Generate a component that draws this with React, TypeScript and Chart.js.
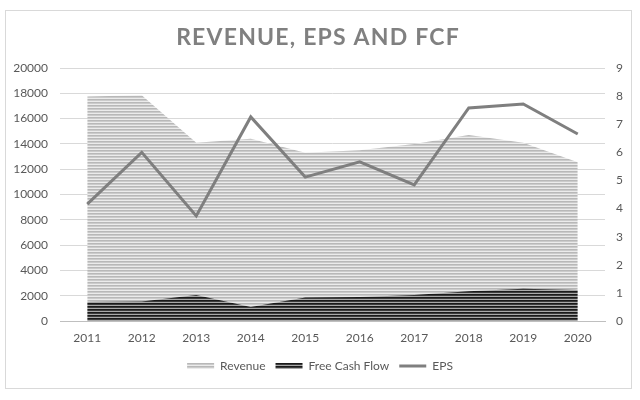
import React, { useEffect, useRef } from "react";
import { Chart, registerables } from "chart.js";

Chart.register(...registerables);

const years = ["2011", "2012", "2013", "2014", "2015", "2016", "2017", "2018", "2019", "2020"];
const revenue = [17750, 17850, 14100, 14400, 13300, 13500, 14000, 14700, 14100, 12550];
const freeCashFlow = [1500, 1550, 2050, 1100, 1850, 1900, 2050, 2350, 2550, 2450];
const eps = [4.16, 6.0, 3.74, 7.26, 5.12, 5.66, 4.84, 7.58, 7.72, 6.65];
const titleText = "REVENUE, EPS AND FCF";

function makePattern(rows: string[]): CanvasPattern | string {
  const c = document.createElement("canvas");
  c.width = 4;
  c.height = rows.length;
  const g = c.getContext("2d");
  if (!g) return rows[0];
  rows.forEach((col, i) => {
    g.fillStyle = col;
    g.fillRect(0, i, 4, 1);
  });
  return g.createPattern(c, "repeat") || rows[0];
}

const FONT = "Lato, 'Open Sans', sans-serif";

export default function App() {
  const ref = useRef<HTMLCanvasElement | null>(null);
  useEffect(() => {
    if (!ref.current) return;
    const revPattern = makePattern(["#b8b8b8", "#cbcbcb", "#ebebeb"]);
    const fcfPattern = makePattern(["#1a1a1a", "#3c3c3c", "#a8a8a8"]);

    const framePlugin = {
      id: "frame",
      beforeDraw(chart: any) {
        const ctx = chart.ctx;
        ctx.save();
        ctx.fillStyle = "#ffffff";
        ctx.fillRect(0, 0, chart.width, chart.height);
        ctx.strokeStyle = "#d9d9d9";
        ctx.lineWidth = 1;
        ctx.strokeRect(5.5, 10.5, 626, 378);
        ctx.fillStyle = "#808080";
        ctx.font = "bold 23px " + FONT;
        ctx.textAlign = "center";
        ctx.textBaseline = "middle";
        try {
          (ctx as any).letterSpacing = "1.2px";
        } catch (e) {}
        ctx.fillText(titleText, 318, 38);
        ctx.restore();
      },
    };

    const plain = (v: any) => String(v);

    const chart = new Chart(ref.current, {
      type: "line",
      data: {
        labels: years,
        datasets: [
          {
            label: "Revenue",
            data: revenue,
            yAxisID: "y",
            fill: "origin",
            backgroundColor: revPattern as any,
            borderWidth: 0,
            borderColor: "rgba(0,0,0,0)",
            pointRadius: 0,
            order: 3,
            pointStyle: "rect",
          },
          {
            label: "Free Cash Flow",
            data: freeCashFlow,
            yAxisID: "y",
            fill: "origin",
            backgroundColor: fcfPattern as any,
            borderWidth: 0,
            borderColor: "rgba(0,0,0,0)",
            pointRadius: 0,
            order: 2,
            pointStyle: "rect",
          },
          {
            label: "EPS",
            data: eps,
            yAxisID: "y1",
            fill: false,
            borderColor: "#7f7f7f",
            backgroundColor: "#7f7f7f",
            borderWidth: 3,
            pointRadius: 0,
            tension: 0,
            order: 1,
            pointStyle: "line",
          },
        ],
      },
      options: {
        responsive: false,
        animation: false,
        layout: { padding: { top: 68, left: 0, right: 0, bottom: 18 } },
        scales: {
          x: {
            offset: true,
            grid: { display: false, drawTicks: false },
            border: { display: true, color: "#bfbfbf" },
            ticks: { color: "#595959", font: { family: FONT, size: 12 }, padding: 10, maxRotation: 0 },
            afterFit(scale: any) {
              scale.height = 29;
            },
          },
          y: {
            position: "left",
            min: 0,
            max: 20000,
            grid: { color: "#d9d9d9", drawTicks: false },
            border: { display: false },
            ticks: { stepSize: 2000, color: "#595959", font: { family: FONT, size: 12 }, padding: 12, callback: plain },
            afterFit(scale: any) {
              scale.width = 60;
            },
          },
          y1: {
            position: "right",
            min: 0,
            max: 9,
            grid: { display: false, drawTicks: false },
            border: { display: false },
            ticks: { stepSize: 1, color: "#595959", font: { family: FONT, size: 12 }, padding: 11, callback: plain },
            afterFit(scale: any) {
              scale.width = 35;
            },
          },
        },
        plugins: {
          title: { display: false },
          tooltip: { enabled: false },
          legend: {
            display: true,
            position: "bottom",
            labels: {
              color: "#595959",
              font: { family: FONT, size: 12 },
              usePointStyle: true,
              pointStyleWidth: 27,
              boxHeight: 6,
              padding: 10,
              sort: (a: any, b: any) => a.datasetIndex - b.datasetIndex,
              generateLabels(chart: any) {
                const items = Chart.defaults.plugins.legend.labels.generateLabels(chart);
                return items.map((it: any) => {
                  const ds = chart.data.datasets[it.datasetIndex];
                  if (ds.label === "EPS") {
                    return { ...it, pointStyle: "line", strokeStyle: "#7f7f7f", lineWidth: 3, fillStyle: "#7f7f7f" };
                  }
                  return { ...it, pointStyle: "rect", fillStyle: ds.backgroundColor, strokeStyle: "rgba(0,0,0,0)", lineWidth: 0 };
                });
              },
            },
          },
        },
      },
      plugins: [framePlugin],
    } as any);
    return () => chart.destroy();
  }, []);

  return (
    <div style={{ position: "absolute", left: 0, top: 0, width: 640, height: 400 }}>
      <canvas ref={ref} width={640} height={400} style={{ display: "block" }} />
    </div>
  );
}
